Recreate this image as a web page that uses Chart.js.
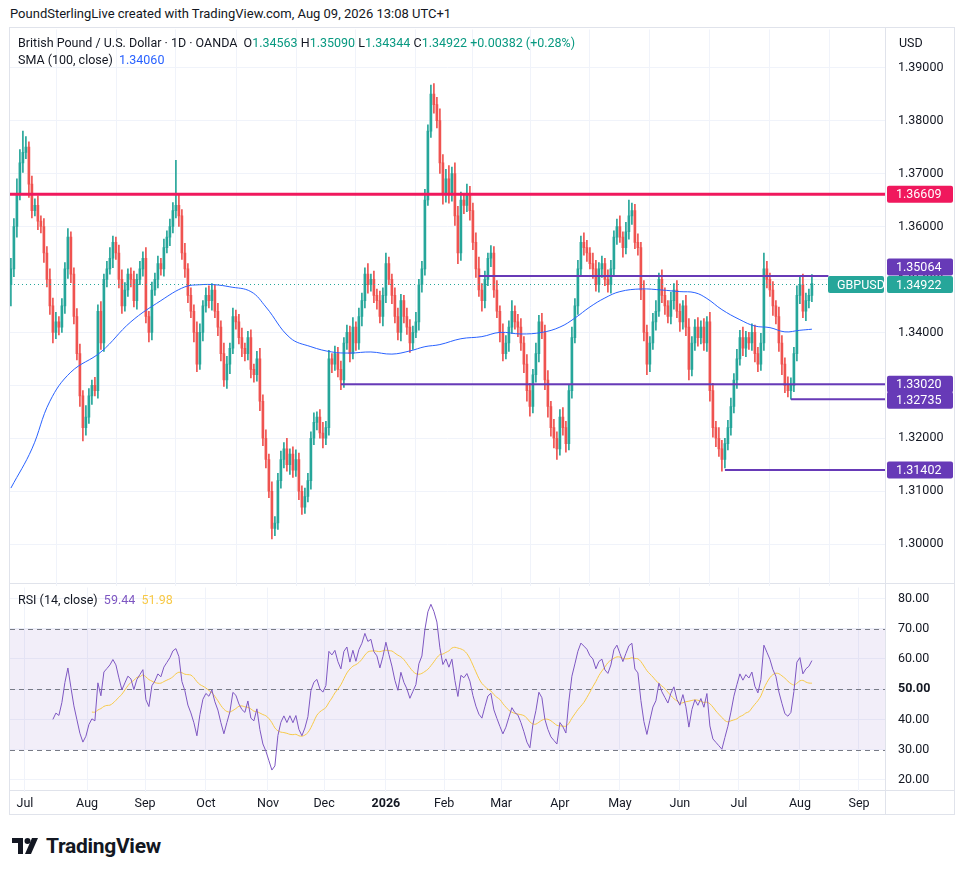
<!DOCTYPE html>
<html>
<head>
<meta charset="utf-8">
<script src="https://cdn.jsdelivr.net/npm/chart.js@4.4.1/dist/chart.umd.min.js"></script>
<style>
  body { margin: 0; background: #fff; font-family: Roboto, 'Noto Sans', sans-serif; width: 964px; height: 875px; position: relative; overflow: hidden; }
  .abs { position: absolute; }
  .hdr { left: 10px; top: 6px; font-size: 13px; color: #131722; }
  .lg { font-size: 12.5px; color: #131722; white-space: nowrap; }
  .t { color: #089981; }
  .frame { left: 9px; top: 27px; width: 946px; height: 788px; border: 1px solid #e0e3eb; box-sizing: border-box; }
  .hl { height: 1px; background: #e0e3eb; }
  .vl { width: 1px; background: #e0e3eb; }
</style>
</head>
<body>
<div class="abs hdr">PoundSterlingLive created with TradingView.com, Aug 09, 2026 13:08 UTC+1</div>
<div class="abs frame"></div>
<div class="abs hl" style="left:10px;top:583px;width:945px"></div>
<div class="abs hl" style="left:10px;top:790px;width:945px"></div>
<div class="abs vl" style="left:885px;top:28px;height:787px"></div>
<div class="abs" style="left:10px;top:9px;width:945px;height:597px"><canvas id="priceChart"></canvas></div>
<div class="abs" style="left:10px;top:567px;width:945px;height:250px"><canvas id="rsiChart"></canvas></div>
<div class="abs lg" style="left:18px;top:35px">British Pound / U.S. Dollar · 1D · OANDA&nbsp;
  O<span class="t">1.34563</span> H<span class="t">1.35090</span> L<span class="t">1.34344</span> C<span class="t">1.34922</span> <span class="t">+0.00382 (+0.28%)</span></div>
<div class="abs lg" style="left:18px;top:52px">SMA (100, close)&nbsp; <span style="color:#2962ff">1.34060</span></div>
<div class="abs lg" style="left:899px;top:35px">USD</div>
<div class="abs lg" style="left:18px;top:592px">RSI (14, close)&nbsp; <span style="color:#7e57c2">59.44</span>&nbsp; <span style="color:#f7c948">51.98</span></div>
<div class="abs" style="left:12px;top:834px;display:flex;align-items:center">
  <svg width="30" height="20" viewBox="0 0 30 20">
    <path d="M0 2h11v16H6V7H0z" fill="#131722"/>
    <circle cx="15.5" cy="5" r="3" fill="#131722"/>
    <path d="M20 2h6l-7 16h-6z" fill="#131722"/>
  </svg>
  <span style="font-size:21px;font-weight:700;color:#131722;margin-left:4px;letter-spacing:-0.3px">TradingView</span>
</div>
<script>
(function () {
    'use strict';

    // ── Data ─────────────────────────────────────────────────────
    const closes = [
        1.352,1.360,1.366,1.372,1.374,1.375,1.368,1.363,1.364,1.361,
        1.360,1.355,1.350,1.345,1.340,1.342,1.341,1.345,1.352,1.358,
        1.351,1.343,1.336,1.328,1.322,1.324,1.328,1.330,1.329,1.344,
        1.338,1.350,1.352,1.354,1.357,1.355,1.350,1.345,1.348,1.351,
        1.350,1.346,1.350,1.352,1.354,1.343,1.340,1.348,1.350,1.353,
        1.352,1.356,1.358,1.360,1.363,1.364,1.362,1.355,1.352,1.347,
        1.344,1.340,1.334,1.340,1.345,1.347,1.346,1.348,1.344,1.341,
        1.336,1.331,1.334,1.337,1.343,1.342,1.339,1.337,1.336,1.339,
        1.333,1.332,1.335,1.327,1.320,1.316,1.310,1.303,1.304,1.312,
        1.316,1.318,1.315,1.317,1.314,1.316,1.310,1.307,1.309,1.312,
        1.320,1.323,1.324,1.321,1.320,1.322,1.335,1.334,1.336,1.333,
        1.331,1.338,1.340,1.336,1.341,1.338,1.343,1.346,1.351,1.349,
        1.350,1.347,1.346,1.343,1.347,1.353,1.350,1.347,1.343,1.340,
        1.346,1.343,1.341,1.338,1.340,1.342,1.349,1.352,1.365,1.378,
        1.385,1.383,1.380,1.372,1.366,1.369,1.366,1.370,1.362,1.355,
        1.365,1.364,1.366,1.363,1.357,1.352,1.348,1.346,1.350,1.354,
        1.355,1.348,1.344,1.340,1.336,1.338,1.341,1.344,1.342,1.341,
        1.338,1.334,1.329,1.326,1.332,1.336,1.342,1.340,1.331,1.326,
        1.322,1.320,1.318,1.324,1.322,1.319,1.329,1.339,1.345,1.352,
        1.357,1.356,1.355,1.353,1.352,1.349,1.352,1.353,1.350,1.349,
        1.352,1.358,1.360,1.358,1.356,1.359,1.362,1.363,1.357,1.356,
        1.348,1.340,1.334,1.338,1.342,1.344,1.350,1.347,1.345,1.343,
        1.346,1.348,1.344,1.342,1.345,1.341,1.333,1.338,1.341,1.339,
        1.341,1.338,1.342,1.329,1.322,1.320,1.318,1.316,1.319,1.322,
        1.326,1.331,1.335,1.339,1.337,1.339,1.338,1.340,1.336,1.334,
        1.338,1.352,1.350,1.348,1.345,1.343,1.338,1.334,1.330,1.329,
        1.330,1.336,1.347,1.349,1.344,1.346,1.347,1.34922
    ];
    // wick extents beyond the body, in pips
    const wickUp = [
        20,15,30,25,40,20,10,15,12,18, 10,15,12,20,15,18,10,14,12,16,
        10,12,15,18,10,22,14,10,15,12, 18,10,14,20,12,10,15,18,14,10,
        12,16,10,14,12,20,10,15,12,14, 10,16,12,14,15,85,20,12,18,10,
        14,12,20,16,10,14,18,12,10,15, 12,20,15,10,16,12,14,18,10,12,
        15,10,14,20,12,16,10,18,12,14, 16,12,20,10,14,18,12,10,16,14,
        12,18,10,14,20,12,16,10,14,12, 16,10,14,12,18,10,16,14,12,20,
        10,16,12,18,14,20,12,10,14,16, 12,10,16,14,12,18,10,14,20,12,
        17,20,14,22,16,18,25,12,20,18, 15,12,20,16,14,18,22,12,16,10,
        14,12,18,10,16,14,12,20,10,14, 16,12,18,14,10,20,12,16,14,18,
        10,16,12,14,18,12,10,20,14,16, 12,18,14,10,20,16,12,14,10,18,
        16,12,14,20,10,18,30,14,12,16, 10,18,14,12,16,20,12,18,14,10,
        16,12,18,14,10,20,16,12,14,18, 12,16,10,18,14,12,20,16,10,14,
        16,12,18,14,20,12,10,16,14,12, 18,30,14,12,16,10,18,14,12,16,
        14,12,18,16,20,14,12,17
    ];
    const wickDn = [
        40,15,20,10,18,12,25,14,10,16, 12,18,14,16,20,12,15,10,14,18,
        16,14,12,20,25,14,12,16,10,14, 12,16,14,10,18,12,16,14,10,12,
        14,12,16,10,14,12,18,14,10,16, 12,14,10,16,12,14,20,12,16,14,
        12,18,14,10,16,12,14,18,12,16, 14,12,16,18,10,14,12,16,14,12,
        16,14,12,18,14,16,12,20,14,12, 14,16,12,18,14,12,16,14,12,10,
        16,12,14,10,18,12,14,16,12,14, 18,14,12,16,10,14,12,18,14,16,
        12,14,16,12,18,14,10,16,12,14, 16,12,14,18,12,10,16,14,12,10,
        12,16,14,20,18,14,16,12,18,20, 14,16,12,18,14,16,12,20,14,12,
        16,14,12,18,14,10,16,12,14,18, 14,16,20,18,12,14,16,12,18,20,
        16,18,20,12,14,16,12,14,10,16, 12,14,16,10,18,12,14,16,12,14,
        16,12,14,10,18,12,14,16,12,14, 18,16,20,14,12,16,10,14,16,12,
        14,16,12,18,14,16,20,12,14,16, 12,14,16,20,18,16,14,22,16,12,
        14,12,16,12,14,16,12,14,16,14, 12,14,16,12,18,14,16,20,14,12,
        16,12,14,16,12,18,14,12
    ];
    const firstOpen = 1.3490;

    // SMA(100): [bar index, value]
    const smaPts = [
        [0,1.3106],[7,1.3180],[13,1.3270],[20,1.3325],[30,1.3363],[40,1.3420],
        [50,1.3460],[58,1.3486],[63,1.3490],[68,1.3490],[73,1.3486],[80,1.3477],
        [85,1.3448],[93,1.3390],[100,1.3373],[107,1.3363],[113,1.3361],[120,1.3363],
        [127,1.3359],[133,1.3365],[138,1.3373],[143,1.3377],[150,1.3388],[157,1.3392],
        [163,1.3400],[170,1.3397],[177,1.3400],[183,1.3410],[188,1.3427],[193,1.3448],
        [198,1.3465],[203,1.3477],[210,1.3482],[217,1.3480],[223,1.3477],[228,1.3475],
        [232,1.3464],[237,1.3443],[243,1.3424],[248,1.3412],[253,1.3409],[258,1.3401],
        [263,1.3404],[267,1.3406]
    ];

    const monthPos    = [4.7, 25.4, 44.7, 65, 85.7, 104.4, 125, 144.4, 163.4, 183, 203, 223, 242.7, 263, 282.7];
    const monthLabels = ['Jul','Aug','Sep','Oct','Nov','Dec','2026','Feb','Mar','Apr','May','Jun','Jul','Aug','Sep'];
    const priceTicks  = [1.30, 1.31, 1.32, 1.33, 1.34, 1.35, 1.36, 1.37, 1.38, 1.39];

    // horizontal levels: [price, from bar (null = left edge), to bar (null = right edge), colour, width, label nudge px]
    const levels = [
        [1.36609, null, null, '#f0185d', 3, 0],
        [1.35064, 156, 272.5, '#673ab7', 2, -9],
        [1.33020, 110, null, '#673ab7', 2, 0],
        [1.32735, 260, null, '#673ab7', 2, 1],
        [1.31402, 238, null, '#673ab7', 2, 0]
    ];
    const lastPrice = 1.34922;

    // ── Shared defaults ──────────────────────────────────────────
    const UP = '#26a69a', DOWN = '#ef5350';
    const GRID = '#f0f3fa';
    const TEXT = '#131722';
    const X_MIN = -0.3, X_MAX = X_MIN + 875 / 3;
    Chart.defaults.font.family = "Roboto, 'Noto Sans', sans-serif";
    Chart.defaults.font.size = 12;
    Chart.defaults.color = TEXT;

    const opens = closes.map((c, i) => i === 0 ? firstOpen : closes[i - 1]);
    const highs = closes.map((c, i) => Math.max(opens[i], c) + wickUp[i] / 10000);
    const lows  = closes.map((c, i) => Math.min(opens[i], c) - wickDn[i] / 10000);
    const colors = closes.map((c, i) => c >= opens[i] ? UP : DOWN);

    function xScale(showTicks) {
        return {
            type: 'linear', min: X_MIN, max: X_MAX, offset: false,
            afterBuildTicks: s => { s.ticks = monthPos.map(v => ({ value: v })); },
            grid: { color: GRID, drawTicks: false },
            border: { display: false },
            ticks: {
                display: showTicks, padding: 4, maxRotation: 0, autoSkip: false,
                callback: (v, i) => monthLabels[i],
                font: ctx => ({ size: 12.5, weight: ctx.index === 6 ? 'bold' : 'normal' })
            },
            afterFit: s => { s.height = showTicks ? 25 : 0; }
        };
    }

    // ── Levels and price labels ──────────────────────────────────
    function box(ctx, x, y, w, h, bg, text) {
        ctx.fillStyle = bg;
        ctx.beginPath();
        ctx.roundRect(x, y - h / 2, w, h, 2);
        ctx.fill();
        ctx.fillStyle = '#fff';
        ctx.textBaseline = 'middle';
        ctx.textAlign = 'left';
        ctx.fillText(text, x + 9, y + 1);
    }

    const levelPlugin = {
        id: 'levels',
        afterDatasetsDraw(chart) {
            const { ctx, chartArea: a, scales: { x, y } } = chart;
            ctx.save();
            // dotted last price
            ctx.strokeStyle = UP;
            ctx.lineWidth = 1;
            ctx.setLineDash([1, 3]);
            const py = Math.round(y.getPixelForValue(lastPrice)) + 0.5;
            ctx.beginPath(); ctx.moveTo(a.left, py); ctx.lineTo(a.right, py); ctx.stroke();
            ctx.setLineDash([]);
            levels.forEach(([p, from, to, col, w]) => {
                const ly = y.getPixelForValue(p);
                ctx.strokeStyle = col;
                ctx.lineWidth = w;
                ctx.beginPath();
                ctx.moveTo(from === null ? a.left : x.getPixelForValue(from), ly);
                ctx.lineTo(to === null ? a.right : x.getPixelForValue(to), ly);
                ctx.stroke();
            });
            ctx.font = "12.5px Roboto, 'Noto Sans', sans-serif";
            levels.forEach(([p, , , col, , nudge]) => {
                box(ctx, a.right + 2, y.getPixelForValue(p) + nudge, 66, 17, col, p.toFixed(5));
            });
            box(ctx, a.right + 2, py, 66, 17, UP, lastPrice.toFixed(5));
            box(ctx, a.right - 57, py, 56, 17, UP, 'GBPUSD');
            ctx.restore();
        }
    };

    // ── 1. Price pane ────────────────────────────────────────────
    (function buildPrice() {
        const ctx = document.getElementById('priceChart');
        new Chart(ctx, {
            type: 'bar',
            data: {
                datasets: [
                    {
                        type: 'line',
                        data: smaPts.map(([i, v]) => ({ x: i, y: v })),
                        borderColor: '#2962ff', borderWidth: 1, pointRadius: 0, tension: 0.4
                    },
                    {
                        data: closes.map((c, i) => ({ x: i, y: [opens[i], c] })),
                        backgroundColor: colors, barThickness: 2, grouped: false, minBarLength: 1
                    },
                    {
                        data: closes.map((c, i) => ({ x: i, y: [lows[i], highs[i]] })),
                        backgroundColor: colors, barThickness: 1, grouped: false
                    }
                ]
            },
            options: {
                responsive: true, maintainAspectRatio: false, animation: false,
                layout: { autoPadding: false, padding: 0 },
                plugins: { legend: { display: false }, tooltip: { enabled: false } },
                scales: {
                    x: xScale(false),
                    y: {
                        position: 'right', min: 1.2922, max: 1.3972,
                        afterBuildTicks: s => { s.ticks = priceTicks.map(v => ({ value: v })); },
                        grid: { color: GRID, drawTicks: false },
                        border: { display: false },
                        ticks: { padding: 13, callback: v => v.toFixed(5), font: { size: 12.5 } },
                        afterFit: s => { s.width = 70; }
                    }
                }
            },
            plugins: [levelPlugin]
        });
    })();

    // ── 2. RSI pane ──────────────────────────────────────────────
    function rsi(src, n) {
        const out = src.map(() => null);
        let g = 0, l = 0;
        for (let i = 1; i <= n; i++) {
            const d = src[i] - src[i - 1];
            g += Math.max(d, 0); l += Math.max(-d, 0);
        }
        g /= n; l /= n;
        out[n] = 100 - 100 / (1 + g / (l || 1e-9));
        for (let i = n + 1; i < src.length; i++) {
            const d = src[i] - src[i - 1];
            g = (g * (n - 1) + Math.max(d, 0)) / n;
            l = (l * (n - 1) + Math.max(-d, 0)) / n;
            out[i] = 100 - 100 / (1 + g / (l || 1e-9));
        }
        return out;
    }
    const rsiVals = rsi(closes, 14);
    const rsiMa = rsiVals.map((v, i) => {
        const win = rsiVals.slice(Math.max(0, i - 13), i + 1);
        return win.length === 14 && win.every(w => w !== null) ? win.reduce((a, b) => a + b, 0) / 14 : null;
    });

    const bandPlugin = {
        id: 'band',
        beforeDatasetsDraw(chart) {
            const { ctx, chartArea: a, scales: { y } } = chart;
            ctx.save();
            ctx.fillStyle = 'rgba(126,87,194,0.1)';
            ctx.fillRect(a.left, y.getPixelForValue(70), a.width, y.getPixelForValue(30) - y.getPixelForValue(70));
            ctx.strokeStyle = '#787b86';
            ctx.lineWidth = 1;
            ctx.setLineDash([5, 4]);
            [70, 50, 30].forEach(v => {
                const py = Math.round(y.getPixelForValue(v)) + 0.5;
                ctx.beginPath(); ctx.moveTo(a.left, py); ctx.lineTo(a.right, py); ctx.stroke();
            });
            ctx.restore();
        }
    };

    (function buildRsi() {
        const ctx = document.getElementById('rsiChart');
        new Chart(ctx, {
            type: 'line',
            data: {
                datasets: [
                    {
                        data: rsiVals.map((v, i) => ({ x: i, y: v })),
                        borderColor: '#7e57c2', borderWidth: 1, pointRadius: 0
                    },
                    {
                        data: rsiMa.map((v, i) => ({ x: i, y: v })),
                        borderColor: '#f7c948', borderWidth: 1, pointRadius: 0, tension: 0.3
                    }
                ]
            },
            options: {
                responsive: true, maintainAspectRatio: false, animation: false,
                layout: { autoPadding: false, padding: 0 },
                plugins: { legend: { display: false }, tooltip: { enabled: false } },
                scales: {
                    x: xScale(true),
                    y: {
                        position: 'right', min: 16, max: 83.6,
                        afterBuildTicks: s => { s.ticks = [20, 30, 40, 50, 60, 70, 80].map(v => ({ value: v })); },
                        grid: { color: GRID, drawTicks: false },
                        border: { display: false },
                        ticks: {
                            padding: 13, callback: v => v.toFixed(2),
                            font: ctx => ({ size: 12.5, weight: ctx.tick && ctx.tick.value === 50 ? 'bold' : 'normal' })
                        },
                        afterFit: s => { s.width = 70; }
                    }
                }
            },
            plugins: [bandPlugin]
        });
    })();
})();
</script>
</body>
</html>
